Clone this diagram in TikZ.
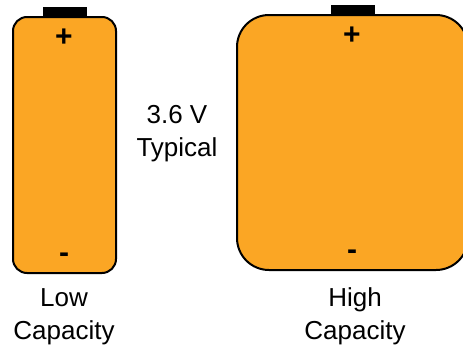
\documentclass[tikz,border=0pt]{standalone}
\usepackage{fontspec}
\setmainfont{Liberation Sans}
\definecolor{cellorange}{RGB}{251,166,36}
\tikzset{
  cell/.style={draw=black, line width=2pt, fill=cellorange, rounded corners=#1, inner sep=0pt},
  terminal/.style={fill=black, minimum width=44pt, minimum height=10pt, inner sep=0pt, anchor=south},
  pole/.style={inner sep=0pt, font=\fontsize{30}{30}\selectfont\bfseries},
  caption/.style={align=center, inner sep=0pt, font=\fontsize{26}{33}\selectfont}
}
\begin{document}
\begin{tikzpicture}[x=1pt, y=-1pt]
        \useasboundingbox (0, 0) rectangle (463, 348);
        \clip (0, 0) rectangle (463, 348);

        % Cells
        \node[cell=14pt, minimum width=103pt, minimum height=256pt] (low) at (64.5, 145) {};
        \node[cell=32pt, minimum width=231pt, minimum height=255pt] (high) at (352.5, 142.5) {};

        % Terminals
        \node[terminal] (lowcap) at ([yshift=-1pt]low.north) {};
        \node[terminal] (highcap) at ([yshift=-1pt]high.north) {};

        % Poles
        \node[pole] (lowplus) at (64, 38) {+};
        \node[pole] (lowminus) at (64, 258) {-};
        \node[pole] (highplus) at (352, 36) {+};
        \node[pole] (highminus) at (352, 255) {-};

        % Labels
        \node[caption] (volt) at (177, 134) {3.6 V\\Typical};
        \node[caption] (lowlabel) at (64, 317) {Low\\Capacity};
        \node[caption] (highlabel) at (355, 316) {High\\Capacity};
    \end{tikzpicture}
\end{document}
